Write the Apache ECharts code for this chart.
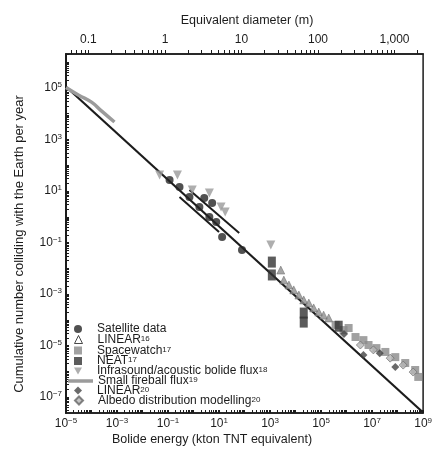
<!DOCTYPE html>
<html>
<head>
    <meta charset="utf-8">
    <title>NEO impact flux</title>
    <script src="https://cdn.jsdelivr.net/npm/echarts@6/dist/echarts.min.js"></script>
</head>
<body style="margin:0;background:#fff;">
    <div id="flux" style="width: 435px;height:450px;"></div>
    <script type="text/javascript">
        // all values are log10: [log10 energy (kton), log10 cumulative number per year]
        var fitLine = [[-5, 5.05], [9, -7.6]];
        var satelliteData = [[-0.94, 1.43], [-0.55, 1.16], [-0.16, 0.77], [0.23, 0.38], [0.42, 0.73], [0.73, 0.53], [0.62, -0.01], [0.89, -0.2], [1.12, -0.79], [1.9, -1.29]];
        var satelliteUpper = [[-0.16, 1.04], [1.79, -0.63]];
        var satelliteLower = [[-0.55, 0.77], [1.0, -0.59]];
        var linear16Data = [[3.42, -2.07], [3.54, -2.46], [3.74, -2.65], [3.93, -2.84], [4.13, -3.04], [4.32, -3.23], [4.52, -3.35], [4.71, -3.54], [4.91, -3.7], [5.1, -3.82], [5.3, -3.93]];
        var spacewatchData = [[5.57, -4.2], [5.88, -4.4], [6.08, -4.32], [6.35, -4.67], [6.66, -4.79], [6.86, -4.98], [7.17, -5.1], [7.52, -5.25], [7.91, -5.45], [8.3, -5.68], [8.69, -5.95], [8.81, -6.22]];
        var neatData = [[3.07, -1.76], [3.07, -2.26], [4.32, -3.74], [4.32, -4.09], [5.69, -4.25]];
        var infrasoundData = [[-1.33, 1.62], [-0.63, 1.62], [-0.05, 1.04], [0.62, 0.92], [1.08, 0.38], [1.24, 0.18], [3.03, -1.1]];
        var fireballData = [[-5, 5.02], [-4.5, 4.72], [-4, 4.45], [-3.6, 4.1], [-3.1, 3.68]];
        var linear20Data = [[5.9, -4.55], [6.66, -5.37], [7.3, -5.3], [7.91, -5.83]];
        var albedoData = [[6.54, -4.98], [7.05, -5.17], [7.71, -5.49], [8.22, -5.76], [8.61, -6.03]];

        // tick labels
        var energyTicks = [-5, -3, -1, 1, 3, 5, 7, 9];
        var numberTicks = [-7, -5, -3, -1, 1, 3, 5];
        var diameterTicks = [-1, 0, 1, 2, 3];
        var diameterLabels = ['0.1', '1', '10', '100', '1,000'];

        var font = 'Liberation Sans, Arial, sans-serif';
        var ink = '#1c1c1c';

        // log spaced minor ticks between lo and hi (in log10 units)
        function logTicks(lo, hi) {
            var out = [];
            for (var n = Math.floor(lo) - 1; n <= Math.ceil(hi); n++) {
                for (var k = 1; k < 10; k++) {
                    var t = n + Math.log10(k);
                    if (t >= lo - 1e-6 && t <= hi + 1e-6) out.push(t);
                }
            }
            return out;
        }
        function powLabel(v) {
            var n = Math.round(v);
            return '{b|10}{s|' + (n < 0 ? '\u2212' + (-n) : n) + '}';
        }
        var powRich = {
            b: { fontSize: 12, fontFamily: font, color: ink, lineHeight: 14 },
            s: { fontSize: 8, fontFamily: font, color: ink, lineHeight: 8, verticalAlign: 'top' }
        };
        // legend text: name^ref -> superscript ref
        function legendText(name) {
            var p = name.split('^');
            return '{t|' + p[0] + '}' + (p[1] ? '{s|' + p[1] + '}' : '');
        }
        function legendRich(pad) {
            return {
                rich: {
                    t: { fontSize: 12, fontFamily: font, color: ink, lineHeight: 10, padding: [0, 0, 0, pad] },
                    s: { fontSize: 8, fontFamily: font, color: ink, lineHeight: 8, verticalAlign: 'top' }
                }
            };
        }

        // one legend per row so the rows sit where the key rows are
        var legendRows = [
            { name: 'Satellite data', icon: 'circle', y: 328 },
            { name: 'LINEAR^16', icon: 'triangle', y: 338.5, itemStyle: { color: '#fff', borderColor: ink, borderWidth: 1 } },
            { name: 'Spacewatch^17', icon: 'rect', y: 349.5 },
            { name: 'NEAT^17', icon: 'rect', y: 360 },
            { name: 'Infrasound/acoustic bolide flux^18', icon: 'path://M0,0L10,0L5,9Z', y: 370 },
            { name: 'Small fireball flux^19', icon: 'path://M0,0L50,0L50,7L0,7Z', y: 380, wide: true },
            { name: 'LINEAR^20', icon: 'diamond', y: 389.5 },
            { name: 'Albedo distribution modelling^20', icon: 'diamond', y: 399.5 }
        ];
        var legends = legendRows.map(function (r) {
            var item = { name: r.name, icon: r.icon };
            if (r.itemStyle) item.itemStyle = r.itemStyle;
            return {
                left: r.wide ? 63 : 69, top: r.y - 10,
                itemWidth: r.wide ? 25 : 8, itemHeight: 8,
                data: [item], formatter: legendText, textStyle: legendRich(r.wide ? 0 : 10)
            };
        });

        var dMin = (-5 + 1.12) / 3, dMax = (9 + 1.12) / 3;

        var chart = echarts.init(document.getElementById('flux'));
        var option = {
            animation: false,
            grid: { left: 66, right: 10, top: 54, bottom: 37, show: true, borderColor: ink, borderWidth: 1.5 },
            xAxis: [
                {
                    type: 'value', position: 'bottom', min: -5, max: 9,
                    axisLine: { onZero: false, lineStyle: { color: ink, width: 1.5 } },
                    axisTick: { inside: true, length: 3, customValues: logTicks(-5, 9), lineStyle: { color: ink } },
                    axisLabel: { customValues: energyTicks, formatter: powLabel, rich: powRich, margin: 4 },
                    splitLine: { show: false }
                },
                {
                    type: 'value', position: 'top', min: dMin, max: dMax,
                    axisLine: { onZero: false, lineStyle: { color: ink, width: 1.5 } },
                    axisTick: { inside: false, length: 4, customValues: logTicks(dMin, dMax), lineStyle: { color: ink } },
                    axisLabel: {
                        customValues: diameterTicks, margin: 8, color: ink, fontSize: 12, fontFamily: font,
                        formatter: function (v) { return diameterLabels[diameterTicks.indexOf(Math.round(v))]; }
                    },
                    splitLine: { show: false }
                }
            ],
            yAxis: [
                {
                    type: 'value', min: -7.62, max: 6.32,
                    axisLine: { onZero: false, lineStyle: { color: ink, width: 2 } },
                    axisTick: { inside: true, length: 3, customValues: logTicks(-7.62, 6.32), lineStyle: { color: ink } },
                    axisLabel: { customValues: numberTicks, formatter: powLabel, rich: powRich, margin: 4 },
                    splitLine: { show: false }
                }
            ],
            legend: legends,
            graphic: [
                { type: 'text', x: 247, y: 21, style: { text: 'Equivalent diameter (m)', font: '12.5px ' + font, fill: ink, textAlign: 'center', textVerticalAlign: 'middle' } },
                { type: 'text', x: 212, y: 440, style: { text: 'Bolide energy (kton TNT equivalent)', font: '12.5px ' + font, fill: ink, textAlign: 'center', textVerticalAlign: 'middle' } },
                { type: 'text', x: 19, y: 244, rotation: Math.PI / 2, style: { text: 'Cumulative number colliding with the Earth per year', font: '13px ' + font, fill: ink, textAlign: 'center', textVerticalAlign: 'middle' } }
            ],
            series: [
                { type: 'line', data: fitLine, symbol: 'none', lineStyle: { color: ink, width: 2.2 }, z: 3 },
                { type: 'line', data: satelliteUpper, symbol: 'none', lineStyle: { color: ink, width: 2 }, z: 3 },
                { type: 'line', data: satelliteLower, symbol: 'none', lineStyle: { color: ink, width: 2 }, z: 3 },
                { name: 'Small fireball flux^19', type: 'line', data: fireballData, symbol: 'none', smooth: true, lineStyle: { color: '#9b9b9b', width: 3.5 }, itemStyle: { color: '#9b9b9b' }, z: 4 },
                { name: 'Satellite data', type: 'scatter', data: satelliteData, symbol: 'circle', symbolSize: 8, itemStyle: { color: '#262626' }, z: 5 },
                { name: 'LINEAR^16', type: 'scatter', data: linear16Data, symbol: 'triangle', symbolSize: 8, itemStyle: { color: '#8e8e8e', borderColor: '#555', borderWidth: 0.5 }, z: 5 },
                { name: 'Spacewatch^17', type: 'scatter', data: spacewatchData, symbol: 'rect', symbolSize: 8, itemStyle: { color: '#8a8a8a' }, z: 5 },
                { name: 'NEAT^17', type: 'scatter', data: neatData, symbol: 'rect', symbolSize: [8, 11], itemStyle: { color: '#333' }, z: 5 },
                { name: 'Infrasound/acoustic bolide flux^18', type: 'scatter', data: infrasoundData, symbol: 'triangle', symbolRotate: 180, symbolSize: 9, itemStyle: { color: '#9a9a9a' }, z: 5 },
                { name: 'LINEAR^20', type: 'scatter', data: linear20Data, symbol: 'diamond', symbolSize: 8, itemStyle: { color: '#444' }, z: 5 },
                { name: 'Albedo distribution modelling^20', type: 'scatter', data: albedoData, symbol: 'diamond', symbolSize: 8, itemStyle: { color: '#b5b5b5', borderColor: '#666', borderWidth: 0.8 }, z: 5 }
            ]
        };
        chart.setOption(option);
    </script>
</body>
</html>
